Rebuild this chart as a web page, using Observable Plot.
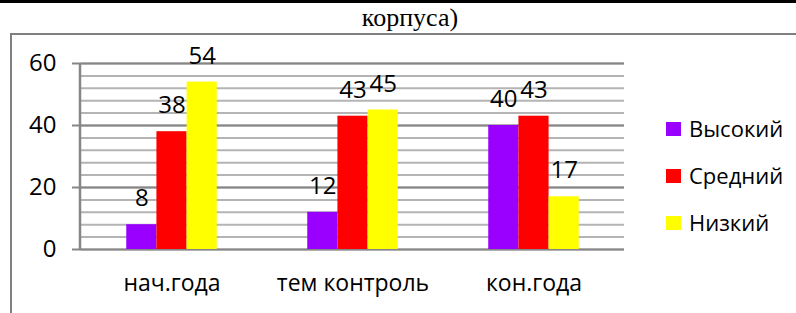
<!DOCTYPE html>
<html>
<head>
<meta charset="utf-8">
<script src="https://cdn.jsdelivr.net/npm/d3@7"></script>
<script src="https://cdn.jsdelivr.net/npm/@observablehq/plot@0.6"></script>
<style>
  html, body { margin: 0; padding: 0; background: #fff; }
  #wrap { position: relative; width: 796px; height: 313px; overflow: hidden; background: #fff; }
  #wrap svg { position: absolute; left: 0; top: 0; }
  .topline { position: absolute; left: 0; top: 0; width: 796px; height: 2.5px; background: #000; }
  .frameTop { position: absolute; left: 10px; top: 33px; width: 786px; height: 2px; background: #808080; }
  .frameLeft { position: absolute; left: 9.5px; top: 33px; width: 2.5px; height: 280px; background: #808080; }
  .title { position: absolute; left: 0; width: 820px; top: 3px; text-align: center;
           font-family: "Liberation Serif", "Times New Roman", serif; font-size: 26px; line-height: 30px; color: #000; }
  .legend { position: absolute; left: 666px; top: 0; font-family: "Open Sans", sans-serif; font-size: 22px; color: #000; }
  .item { position: absolute; left: 0; white-space: nowrap; height: 30px; line-height: 30px; }
  .sw { display: inline-block; width: 15px; height: 14px; vertical-align: middle; margin-right: 8px; position: relative; top: -2px; }
</style>
</head>
<body>
<div id="wrap">
  <div class="topline"></div>
  <div class="title">корпуса)</div>
  <div class="frameTop"></div>
  <div class="frameLeft"></div>
</div>
<script>
const categories = ["нач.года", "тем контроль", "кон.года"];
const series = ["Высокий", "Средний", "Низкий"];
const highValues = [8, 12, 40];
const mediumValues = [38, 43, 43];
const lowValues = [54, 45, 17];
const colors = ["#9900ff", "#ff0000", "#ffff00"];
const yTicks = [0, 20, 40, 60];
const minorTicks = d3.range(0, 61, 4);

const seriesValues = [highValues, mediumValues, lowValues];
const data = [];
categories.forEach((c, i) => {
  series.forEach((s, j) => data.push({cat: c, series: s, value: seriesValues[j][i]}));
});

const plot = Plot.plot({
  width: 796,
  height: 313,
  marginLeft: 80,
  marginRight: 172,
  marginTop: 63,
  marginBottom: 64,
  style: {fontFamily: "Open Sans", fontSize: "23px", background: "transparent", overflow: "visible", color: "#000"},
  fx: {domain: categories, padding: 0, label: null},
  x: {domain: series, paddingInner: 0, paddingOuter: 1.5, round: false, axis: null},
  y: {domain: [0, 60], label: null},
  color: {domain: series, range: colors},
  marks: [
    Plot.ruleY(minorTicks, {stroke: "#b4b4b4", strokeWidth: 2}),
    Plot.ruleY(yTicks, {stroke: "#868686", strokeWidth: 2}),
    Plot.barY(data, {fx: "cat", x: "series", y: "value", fill: "series"}),
    Plot.text(data, {fx: "cat", x: "series", y: "value", text: d => String(d.value), dy: -26, fill: "#000", fontSize: 24}),
    Plot.axisY({ticks: yTicks, tickSize: 9, tickPadding: 16, stroke: "#868686", strokeWidth: 2, fill: "#000", label: null, fontSize: 24}),
    Plot.axisFx({anchor: "bottom", tickSize: 0, tickPadding: 25, label: null, fill: "#000", fontSize: 23})
  ]
});

// vertical value-axis line along the left of the plot area
const ys = plot.scale("y");
d3.select(plot).append("line")
  .attr("x1", 80).attr("x2", 80)
  .attr("y1", ys.apply(60)).attr("y2", ys.apply(0) + 1)
  .attr("stroke", "#868686").attr("stroke-width", 2.5);

const wrap = document.getElementById("wrap");
wrap.insertBefore(plot, wrap.firstChild);

const legend = document.createElement("div");
legend.className = "legend";
series.forEach((s, i) => {
  const it = document.createElement("div");
  it.className = "item";
  it.style.top = (113 + i * 47) + "px";
  const sw = document.createElement("span");
  sw.className = "sw";
  sw.style.background = colors[i];
  it.appendChild(sw);
  it.appendChild(document.createTextNode(s));
  legend.appendChild(it);
});
wrap.appendChild(legend);
</script>
</body>
</html>
